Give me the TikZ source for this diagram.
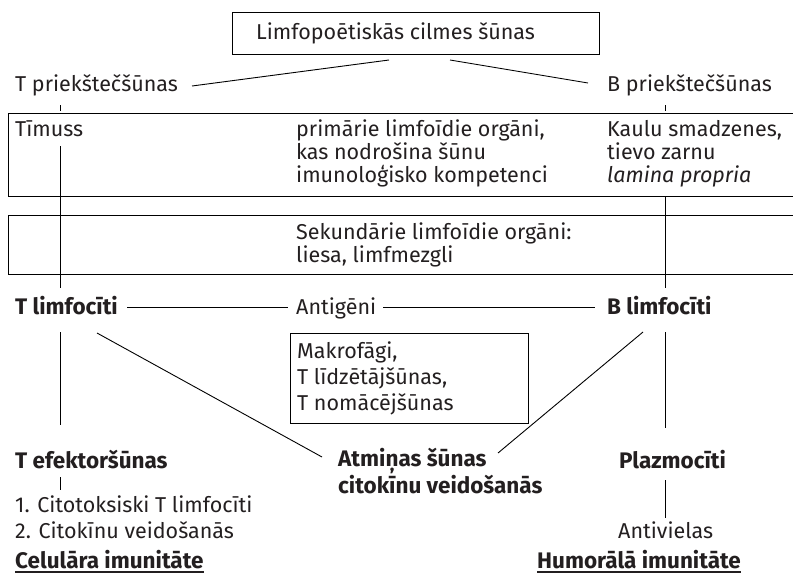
\documentclass[tikz,border=0pt]{standalone}
\usepackage{fontspec}
\setmainfont{Fira Sans}
\definecolor{ink}{HTML}{231F20}
\begin{document}
\begin{tikzpicture}[x=1pt,y=-1pt,
  txt/.style={inner sep=0pt, anchor=base west, text=ink, align=left,
    font=\fontsize{21.5}{23}\selectfont},
  boldtxt/.style={txt, font=\fontsize{22.5}{25}\selectfont\bfseries},
  frame/.style={draw=black, line width=1.4pt},
  link/.style={draw=black, line width=0.9pt},
  ul/.style={draw=ink, line width=1.3pt}]
\useasboundingbox (0,0) rectangle (793,573);
\clip (0,0) rectangle (793,573);

% organ frames
\node[frame, inner sep=0pt, anchor=north west, minimum width=367pt, minimum height=42pt] (stem) at (232,12) {};
\node[frame, inner sep=0pt, anchor=north west, minimum width=800pt, minimum height=83pt] (primary) at (7.5,113) {};
\node[frame, inner sep=0pt, anchor=north west, minimum width=800pt, minimum height=59pt] (secondary) at (7.5,215) {};
\node[frame, inner sep=0pt, anchor=north west, minimum width=238pt, minimum height=90pt] (helpers) at (290,333) {};

% texts (multi-line blocks are placed by the baseline of their last line)
\node[txt] (stemtxt) at (256,39) {Limfopoētiskās cilmes šūnas};
\node[txt] (tpre) at (15,91) {T priekštečšūnas};
\node[txt] (bpre) at (607,91) {B priekštečšūnas};
\node[txt] (thymus) at (15,136) {Tīmuss};
\node[txt] (primtxt) at (296,182) {primārie limfoīdie orgāni,\\kas nodrošina šūnu\\imunoloģisko kompetenci};
\node[txt] (marrow) at (607,182) {Kaulu smadzenes,\\tievo zarnu\\\textit{lamina propria}};
\node[txt] (sectxt) at (296,262) {Sekundārie limfoīdie orgāni:\\liesa, limfmezgli};
\node[boldtxt] (tlym) at (15,314) {T limfocīti};
\node[txt] (antigen) at (296,314) {Antigēni};
\node[boldtxt] (blym) at (607,314) {B limfocīti};
\node[txt, font=\fontsize{21.5}{26}\selectfont] (macro) at (297,410) {Makrofāgi,\\T līdzētājšūnas,\\T nomācējšūnas};
\node[boldtxt] (teff) at (15,468) {T efektoršūnas};
\node[boldtxt] (mem) at (338,493) {Atmiņas šūnas\\citokīnu veidošanās};
\node[boldtxt] (plasma) at (619,468) {Plazmocīti};
\node[txt, font=\fontsize{21.5}{26}\selectfont] (tlist) at (15,538) {1. Citotoksiski T limfocīti\\2. Citokīnu veidošanās};
\node[txt] (antib) at (618,538) {Antivielas};
\node[boldtxt] (cell) at (15,568) {Celulāra imunitāte};
\node[boldtxt] (humor) at (537,568) {Humorālā imunitāte};

\path[ul] ([yshift=-4pt]cell.base west) -- ([yshift=-4pt]cell.base east);
\path[ul] ([yshift=-4pt]humor.base west) -- ([yshift=-4pt]humor.base east);

% connector end points
\coordinate (sL) at (389,60);
\coordinate (sR) at (450,60);
\coordinate (tpE) at (192,86);
\coordinate (bpW) at (588,83);
\coordinate (tpTick1) at (60,105);
\coordinate (tpTick2) at (60,111);
\coordinate (bpTick1) at (665,105);
\coordinate (bpTick2) at (665,111);
\coordinate (thyB) at (60,146);
\coordinate (tlymN) at (60,288);
\coordinate (marB) at (665,196);
\coordinate (blymN) at (665,288);
\coordinate (tlymE) at (127,307);
\coordinate (antW) at (288,307);
\coordinate (antE) at (383,307);
\coordinate (blymW) at (595,307);
\coordinate (tlymS) at (60,332);
\coordinate (teffN) at (60,425);
\coordinate (tlymSE) at (97,333);
\coordinate (memW) at (322,457);
\coordinate (blymSW) at (643,332);
\coordinate (memE) at (498,453);
\coordinate (blymS) at (665,332);
\coordinate (plasN) at (665,428);
\coordinate (teffS) at (60,477);
\coordinate (tlistN) at (60,490);
\coordinate (plasS) at (665,480);
\coordinate (antibN) at (665,518);

\path[link] (tpE) -- (sL);
\path[link] (sR) -- (bpW);
\path[link] (tpTick1) -- (tpTick2);
\path[link] (bpTick1) -- (bpTick2);
\path[link] (thyB) -- (tlymN);
\path[link] (marB) -- (blymN);
\path[link] (tlymE) -- (antW);
\path[link] (antE) -- (blymW);
\path[link] (tlymS) -- (teffN);
\path[link] (tlymSE) -- (memW);
\path[link] (blymSW) -- (memE);
\path[link] (blymS) -- (plasN);
\path[link] (teffS) -- (tlistN);
\path[link] (plasS) -- (antibN);
\end{tikzpicture}
\end{document}
